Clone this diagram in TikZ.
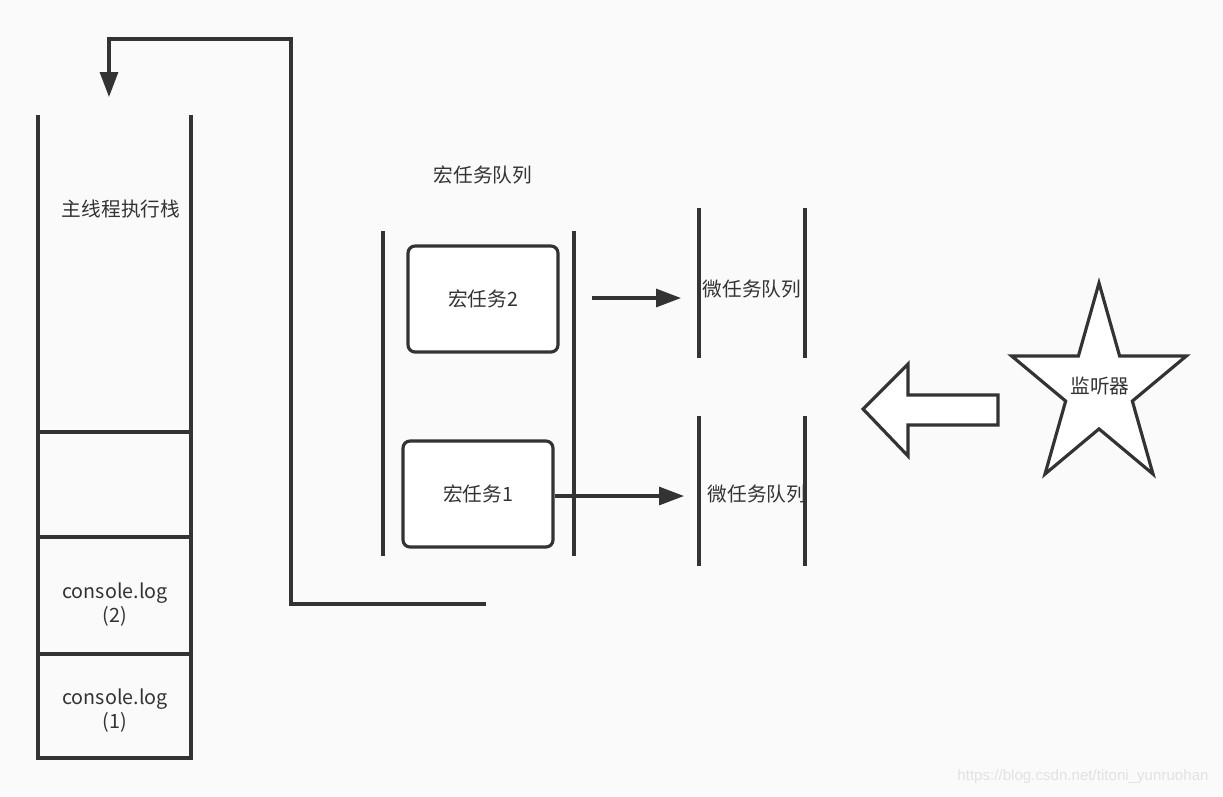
\documentclass[tikz,border=0pt]{standalone}
\usepackage{fontspec}
\setmainfont{Noto Sans CJK SC}
\newfontfamily\markfont{Liberation Sans}
\usetikzlibrary{arrows.meta}
\definecolor{inkgray}{HTML}{333333}
\definecolor{paper}{HTML}{FAFAFA}
\definecolor{markgray}{HTML}{E2E2E2}
\begin{document}
\begin{tikzpicture}[x=0.02cm,y=-0.02cm,
  line/.style={draw=inkgray,line width=1.8pt},
  flow/.style={line,-{Triangle[length=0.5cm,width=0.36cm]}},
  lbl/.style={text=inkgray,font=\fontsize{11.2}{13.6}\selectfont,align=center,inner sep=0pt},
  taskbox/.style={line,fill=white,rounded corners=4pt,minimum width=3cm,minimum height=2.12cm,lbl}]
\fill[paper] (0,0) rectangle (1223,796);

\draw[line] (38,115) -- (38,760);
\draw[line] (191,115) -- (191,760);
\draw[line] (38,432) -- (191,432);
\draw[line] (38,537) -- (191,537);
\draw[line] (38,654) -- (191,654);
\draw[line] (38,758) -- (191,758);
\node[lbl] (mainstack) at (121,209) {主线程执行栈};
\node[lbl] (log2) at (115,605) {console.log\\(2)};
\node[lbl] (log1) at (115,711) {console.log\\(1)};

\coordinate (loopend) at (486,604);
\coordinate (looptip) at (109,97);
\draw[flow] (loopend) -| (291,39) -| (looptip);

\node[lbl] (macroq) at (483,175) {宏任务队列};
\draw[line] (383,231) -- (383,556);
\draw[line] (574,231) -- (574,556);
\node[taskbox] (task2) at (483,299) {宏任务2};
\node[taskbox] (task1) at (478,494) {宏任务1};

\draw[line] (699,208) -- (699,358);
\draw[line] (805,208) -- (805,358);
\draw[line] (699,416) -- (699,566);
\draw[line] (805,416) -- (805,566);
\node[lbl] (micro2) at (752,289) {微任务队列};
\node[lbl] (micro1) at (757,494) {微任务队列};

\coordinate (a2start) at (592,298);
\coordinate (a2end) at (681,298);
\coordinate (a1end) at (684,496);
\draw[flow] (a2start) -- (a2end);
\draw[flow] (task1.east |- a1end) -- (a1end);

\draw[line,fill=white,line join=miter] (863,409) -- (908,364) -- (908,395) -- (998,395)
  -- (998,425) -- (908,425) -- (908,456) -- cycle;

\begin{scope}[shift={(1099,388.6)},xscale=0.87]
\draw[line,fill=white,line join=miter] (-90:105.6)
  \foreach \k in {1,...,9}{ -- ({-90+36*\k}:{105.6-65.3*mod(\k,2)}) } -- cycle;
\end{scope}
\node[lbl] (listener) at (1100,386) {监听器};

\node[text=markgray,font=\markfont\fontsize{8.6}{10}\selectfont,inner sep=0pt] (mark) at (1083,777) {https://blog.csdn.net/titoni\_yunruohan};
\end{tikzpicture}
\end{document}
